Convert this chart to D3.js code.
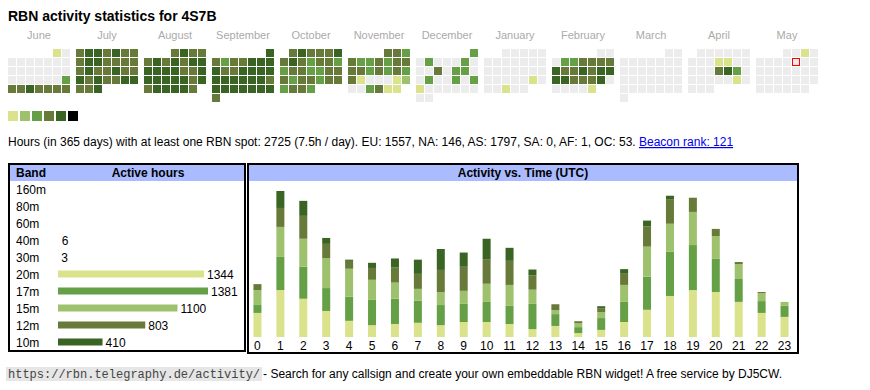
<!DOCTYPE html>
<html>
<head>
<meta charset="utf-8">
<script src="https://cdn.jsdelivr.net/npm/d3@7"></script>
<style>
  body { margin: 0; background: #fff; }
  svg { font-family: Arial, "Liberation Sans", sans-serif; display: block; }
</style>
</head>
<body>
<svg id="chart" width="870" height="390"></svg>
<script>
// ---- data ----
const callsign = "4S7B";
const monthNames = ["June", "July", "August", "September", "October", "November",
  "December", "January", "February", "March", "April", "May"];
const firstMonth = new Date(2024, 5, 1);
const today = new Date(2025, 4, 9);

// activity level per day (0 = no spots), one array per month
const monthLevels = [
  [1,0, 0,0,0,0,0,0,0, 0,0,0,0,0,0,0, 0,0,0,0,0,0,3, 4,4,5,4,4,4,4],
  [4,5,5,4,5,4,4, 4,5,5,4,4,4,4, 4,5,4,4,5,4,4, 5,4,5,4,4,5,5, 4,4,5],
  [4,5,4,4, 4,5,4,5,4,5,5, 5,5,5,5,4,4,5, 5,5,5,5,5,4,5, 4,5,5,5,5,4],
  [5, 4,3,4,4,5,5,5, 5,4,4,5,5,5,5, 5,5,5,5,5,5,4, 5,5,5,5,5,5,5, 4],
  [4,5,4,4,4,5, 4,5,4,3,4,4,3, 3,4,4,3,3,4,4, 4,3,4,4,3,4,4, 3,4,4,3],
  [4,4,3, 4,3,3,4,3,4,4, 4,4,3,4,3,4,3, 4,1,0,0,0,1,2, 0,0,3,4,1,1],
  [3, 0,3,0,0,0,3,0, 0,0,4,0,3,3,0, 0,3,0,0,3,0,3, 1,0,0,0,0,0,0, 0,0],
  [0,0,0,0,0, 0,0,0,0,0,0,0, 0,0,0,0,0,0,0, 0,0,0,0,0,1,0, 0,0,1,0,0],
  [0,0, 0,3,3,4,4,4,4, 5,4,4,5,4,5,5, 5,5,4,4,4,5,0, 0,0,0,0,1],
  [0,0, 0,0,0,0,0,0,0, 0,0,0,0,0,0,0, 0,0,0,0,0,0,0, 0,0,0,0,0,0,0, 0],
  [0,0,0,0,0,0, 0,0,0,1,1,0,0, 0,0,0,4,5,3,0, 0,0,0,0,0,1,0, 0,0,0],
  [0,0,1,0, 0,0,0,0,0,0,0, 0,0,0,0,0,0,0, 0,0,0,0,0,0,0, 0,0,0,0,0,0]
];
const levelColors = ["#ececec", "#dbe28c", "#9dc16c", "#65a046", "#677a3a", "#3a6424", "#000000"];
const legendLevels = [1, 2, 3, 4, 5, 6];

const summaryText = "Hours (in 365 days) with at least one RBN spot: 2725 (7.5h / day). EU: 1557, NA: 146, AS: 1797, SA: 0, AF: 1, OC: 53. ";
const beaconText = "Beacon rank: 121";

const bands = ["160m", "80m", "60m", "40m", "30m", "20m", "17m", "15m", "12m", "10m"];
const bandHours = [null, null, null, 6, 3, 1344, 1381, 1100, 803, 410];
const bandColors = {"20m": "#dbe28c", "17m": "#65a046", "15m": "#9dc16c", "12m": "#677a3a", "10m": "#3a6424"};

// hours per UTC hour, per band (stack order bottom to top)
const hourLabels = [0,1,2,3,4,5,6,7,8,9,10,11,12,13,14,15,16,17,18,19,20,21,22,23];
const h20m = [61,119,97,66,41,30,33,36,30,38,38,33,20,28,10,18,38,69,104,119,114,89,61,51];
const h17m = [20,84,81,58,61,64,64,56,51,46,51,46,64,30,15,30,51,84,112,114,84,58,30,28];
const h15m = [38,76,71,76,71,51,41,30,33,33,46,53,36,10,10,15,43,76,71,84,58,38,20,10];
const h12m = [15,48,58,36,20,30,38,38,56,61,61,61,36,15,5,10,30,51,61,36,18,5,3,0];
const h10m = [0,43,38,15,3,13,23,36,53,36,53,33,15,0,0,5,10,15,10,0,0,0,0,0];

const footerUrl = "https://rbn.telegraphy.de/activity/";
const footerText = " - Search for any callsign and create your own embeddable RBN widget! A free service by DJ5CW.";

const svg = d3.select("#chart");

// ---- title ----
svg.append("text")
  .attr("x", 8).attr("y", 21)
  .attr("font-size", 14).attr("font-weight", "bold")
  .text("RBN activity statistics for " + callsign);

// ---- calendar heatmap ----
const monthX = d3.scaleBand().domain(monthNames).range([8, 818]).paddingInner(6 / 68);
const colX = d3.scaleBand().domain(d3.range(7)).range([0, 62]).paddingInner(1 / 9);
const rowY = d3.scaleBand().domain(d3.range(6)).range([49, 102]).paddingInner(1 / 9);

const cells = [];
monthLevels.forEach((levels, m) => {
  const start = d3.timeMonth.offset(firstMonth, m);
  levels.forEach((lv, i) => {
    const date = d3.timeDay.offset(start, i);
    cells.push({
      month: monthNames[m], date, lv,
      col: (date.getDay() + 6) % 7,
      row: d3.timeMonday.count(start, date)
    });
  });
});

svg.append("g").selectAll("text")
  .data(monthNames)
  .join("text")
  .attr("x", d => monthX(d) + monthX.bandwidth() / 2)
  .attr("y", 39)
  .attr("text-anchor", "middle")
  .attr("font-size", 11)
  .attr("fill", "#aaaaaa")
  .text(d => d);

svg.append("g").selectAll("rect")
  .data(cells)
  .join("rect")
  .attr("x", d => monthX(d.month) + colX(d.col))
  .attr("y", d => rowY(d.row))
  .attr("width", colX.bandwidth())
  .attr("height", rowY.bandwidth())
  .attr("fill", d => levelColors[d.lv]);

const todayCell = cells.find(d => +d.date === +today);
svg.append("rect")
  .attr("x", monthX(todayCell.month) + colX(todayCell.col) + 0.5)
  .attr("y", rowY(todayCell.row) + 0.5)
  .attr("width", colX.bandwidth() - 1)
  .attr("height", rowY.bandwidth() - 1)
  .attr("fill", "none")
  .attr("stroke", "#ff0000")
  .attr("stroke-width", 1);

// legend
const legendX = d3.scaleBand().domain(legendLevels).range([8, 78]).paddingInner(2 / 12);
svg.append("g").selectAll("rect")
  .data(legendLevels)
  .join("rect")
  .attr("x", d => legendX(d))
  .attr("y", 111)
  .attr("width", legendX.bandwidth())
  .attr("height", legendX.bandwidth())
  .attr("fill", d => levelColors[d]);

// summary line
const summary = svg.append("text")
  .attr("x", 8).attr("y", 146)
  .attr("font-size", 12);
summary.append("tspan").text(summaryText);
summary.append("tspan")
  .attr("fill", "#0000ee")
  .style("text-decoration", "underline")
  .text(beaconText);

// ---- band table ----
svg.append("rect")
  .attr("x", 9).attr("y", 164).attr("width", 236).attr("height", 187)
  .attr("fill", "#fff").attr("stroke", "#000").attr("stroke-width", 2);
svg.append("rect")
  .attr("x", 10).attr("y", 165).attr("width", 234).attr("height", 16)
  .attr("fill", "#aabbff");
svg.append("text")
  .attr("x", 16).attr("y", 177)
  .attr("font-size", 12).attr("font-weight", "bold")
  .text("Band");
svg.append("text")
  .attr("x", 148).attr("y", 177)
  .attr("text-anchor", "middle")
  .attr("font-size", 12).attr("font-weight", "bold")
  .text("Active hours");

const bandY = d3.scaleBand().domain(bands).range([180.5, 350.5]);
const bandX = d3.scaleLinear().domain([0, d3.max(bandHours)]).range([58, 208]);
const bandRows = bands.map((b, i) => ({band: b, hours: bandHours[i]}));

const rows = svg.append("g").selectAll("g")
  .data(bandRows)
  .join("g")
  .attr("transform", d => `translate(0,${bandY(d.band) + bandY.bandwidth() / 2})`);

rows.append("text")
  .attr("x", 16).attr("y", 4.5)
  .attr("font-size", 12)
  .text(d => d.band);

rows.filter(d => d.hours != null && bandColors[d.band]).append("rect")
  .attr("x", bandX(0))
  .attr("y", -3.5)
  .attr("width", d => bandX(d.hours) - bandX(0))
  .attr("height", 7)
  .attr("fill", d => bandColors[d.band]);

rows.filter(d => d.hours != null).append("text")
  .attr("x", d => bandX(d.hours) + 3)
  .attr("y", 4.5)
  .attr("font-size", 12)
  .text(d => d.hours);

// ---- activity vs time ----
svg.append("rect")
  .attr("x", 248).attr("y", 164).attr("width", 550).attr("height", 189)
  .attr("fill", "#fff").attr("stroke", "#000").attr("stroke-width", 2);
svg.append("rect")
  .attr("x", 249).attr("y", 165).attr("width", 548).attr("height", 16)
  .attr("fill", "#aabbff");
svg.append("text")
  .attr("x", 523).attr("y", 177)
  .attr("text-anchor", "middle")
  .attr("font-size", 12).attr("font-weight", "bold")
  .text("Activity vs. Time (UTC)");

const stackKeys = ["20m", "17m", "15m", "12m", "10m"];
const hourRows = hourLabels.map((h, i) => ({
  hour: h, "20m": h20m[i], "17m": h17m[i], "15m": h15m[i], "12m": h12m[i], "10m": h10m[i]
}));
const series = d3.stack().keys(stackKeys)(hourRows);

const hourX = d3.scaleBand().domain(hourLabels).range([246, 796]);
const totals = hourRows.map(r => stackKeys.reduce((s, k) => s + r[k], 0));
const hourY = d3.scaleLinear().domain([0, d3.max(totals)]).range([337, 191]);
const barW = 8;

svg.append("g").selectAll("g")
  .data(series)
  .join("g")
  .attr("fill", d => bandColors[d.key])
  .selectAll("rect")
  .data(d => d)
  .join("rect")
  .attr("x", d => hourX(d.data.hour) + hourX.bandwidth() / 2 - barW / 2)
  .attr("y", d => hourY(d[1]))
  .attr("width", barW)
  .attr("height", d => hourY(d[0]) - hourY(d[1]));

const xAxis = svg.append("g")
  .attr("transform", "translate(0,337)")
  .call(d3.axisBottom(hourX).tickSize(0).tickPadding(4));
xAxis.select(".domain").remove();
xAxis.selectAll("text")
  .attr("font-size", 12)
  .attr("font-family", "Arial, 'Liberation Sans', sans-serif")
  .attr("fill", "#000");

// ---- footer ----
const footer = svg.append("g");
const urlBg = footer.append("rect")
  .attr("x", 6).attr("y", 367)
  .attr("height", 14)
  .attr("fill", "#e6e6e6");
const urlText = footer.append("text")
  .attr("x", 8).attr("y", 378)
  .attr("font-family", "'Liberation Mono', 'DejaVu Sans Mono', monospace")
  .attr("font-size", 12)
  .attr("fill", "#444")
  .text(footerUrl);
const urlW = urlText.node().getComputedTextLength();
urlBg.attr("width", urlW + 4);
footer.append("text")
  .attr("x", 8 + urlW + 3).attr("y", 378)
  .attr("font-size", 12)
  .attr("fill", "#000")
  .text(footerText);
</script>
</body>
</html>
